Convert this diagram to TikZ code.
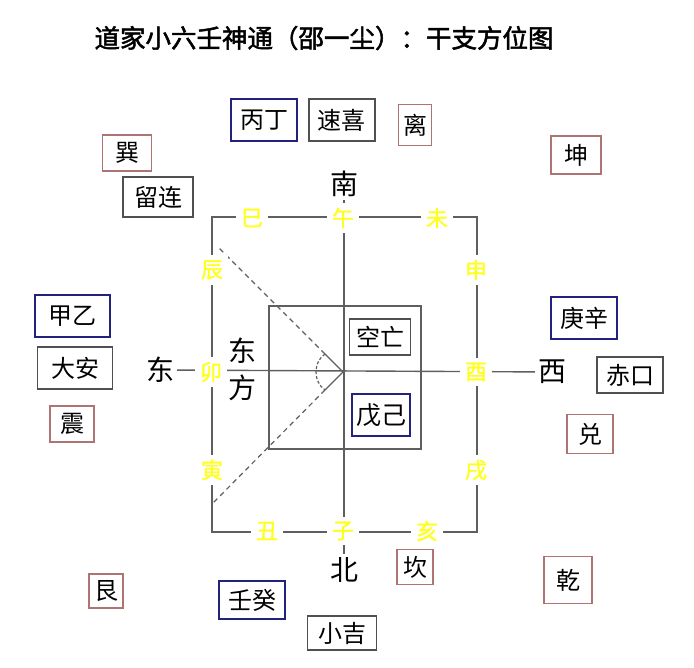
\documentclass[tikz,border=0pt]{standalone}
\usepackage{fontspec}
\newfontfamily\cjk{Noto Sans CJK SC}
\newfontfamily\cjkbf[FakeBold=2]{Noto Sans CJK SC}
\newfontfamily\cjkmid[FakeBold=1.2]{Noto Sans CJK SC}
\usepackage{tikz}
\usetikzlibrary{arrows,positioning}
\definecolor{navy}{RGB}{35,35,125}
\definecolor{guared}{RGB}{175,115,115}
\definecolor{boxgray}{RGB}{80,80,80}
\definecolor{branchyellow}{RGB}{255,255,30}
\definecolor{linegray}{RGB}{95,95,95}
\tikzset{
    %Define style for boxes
    stem/.style={
           rectangle,
           draw=navy, line width=2pt,
           minimum width=66pt,
           minimum height=42pt,
           inner sep=4pt,
           font=\cjk\fontsize{24}{24}\selectfont,
           text centered},
    god/.style={
           rectangle,
           draw=boxgray, line width=1.6pt,
           minimum width=66pt,
           minimum height=42pt,
           inner sep=4pt,
           font=\cjk\fontsize{24}{24}\selectfont,
           text centered},
    gua/.style={
           rectangle,
           draw=guared, line width=1.5pt,
           minimum width=42pt,
           minimum height=38pt,
           inner sep=4pt,
           font=\cjk\fontsize{24}{24}\selectfont,
           text centered},
    branch/.style={
           text=branchyellow,
           fill=white,
           inner sep=5pt,
           font=\cjkmid\fontsize{22}{22}\selectfont},
    dir/.style={
           inner sep=3pt,
           font=\cjk\fontsize{28}{28}\selectfont},
    % Define line style
    cross/.style={
           draw=linegray,
           line width=1.4pt},
    ray/.style={
           draw=linegray,
           line width=1.2pt,
           dash pattern=on 5pt off 4pt}
}
\begin{document}
\begin{tikzpicture}[x=1pt,y=-1pt]
\useasboundingbox[fill=white] (0,0) rectangle (694,668);
\node[font=\cjkbf\fontsize{25.5}{25.5}\selectfont](title) at (324,38){道家小六壬神通（邵一尘）：干支方位图};

% palace square and centre
\coordinate (tl) at (212,217);
\coordinate (br) at (477,532);
\coordinate (itl) at (269,306);
\coordinate (ibr) at (421,449);
\path[cross] (tl) rectangle (br);
\path[cross] (itl) rectangle (ibr);

\node[dir](nan) at (344,184){南};
\node[dir](bei) at (344,570){北};
\node[dir](dong) at (160,370){东};
\node[dir](xi) at (552,372){西};
\node[dir](dongfang1) at (242,351){东};
\node[dir](dongfang2) at (242,388){方};
\path[cross]
	(nan) edge (bei)
	(dong) edge (xi);

% angle towards the east
\coordinate (v) at (343,372);
\coordinate (a1) at (325,354);
\coordinate (a2) at (325,390);
\coordinate (r1) at (219,248);
\coordinate (r2) at (213,503);
\path[draw=linegray, line width=1.2pt]
	(v) edge (a1)
	(v) edge (a2);
\path[ray]
	(a1) edge (r1)
	(a2) edge (r2);
\draw[linegray, line width=1.2pt, dash pattern=on 3pt off 2pt] (a1) .. controls (313,362) and (313,382) .. (a2);

% twelve branches
\node[branch](si) at (252,218){巳};
\node[branch](wu) at (343,218){午};
\node[branch](wei) at (437,218){未};
\node[branch](chen) at (212,270){辰};
\node[branch](mao) at (211,372){卯};
\node[branch](yin) at (212,470){寅};
\node[branch](shen) at (476,270){申};
\node[branch](you) at (476,372){酉};
\node[branch](xu) at (476,470){戌};
\node[branch](chou) at (267,531){丑};
\node[branch](zi) at (343,531){子};
\node[branch](hai) at (427,531){亥};

% centre boxes
\node[god, minimum width=61pt, minimum height=36pt](kongwang) at (380,337){空亡};
\node[stem, minimum width=55pt, minimum height=42pt, font=\cjk\fontsize{25}{25}\selectfont](wuji) at (381,415){戊己};

% stems, gods and trigrams
\node[stem](bingding) at (264,120){丙丁};
\node[god, right=10pt of bingding](suxi){速喜};
\node[gua, minimum width=33pt, minimum height=41pt](li) at (415,125){离};
\node[gua, minimum width=49pt, minimum height=36pt](xun) at (127,153){巽};
\node[god, minimum width=70pt, minimum height=40pt](liulian) at (158,197){留连};
\node[gua, minimum width=50pt](kun) at (576,155){坤};
\node[stem, minimum width=75pt](jiayi) at (72,316){甲乙};
\node[god, minimum width=75pt](daan) at (75,368){大安};
\node[gua, minimum width=44pt, minimum height=36pt](zhen) at (72,424){震};
\node[stem](gengxin) at (584,318){庚辛};
\node[god, minimum height=36pt](chikou) at (630,375){赤口};
\node[gua, minimum width=46pt, minimum height=39pt](dui) at (590,434){兑};
\node[gua, minimum width=34pt, minimum height=34pt](gen) at (106,591){艮};
\node[stem, minimum height=38pt](rengui) at (252,600){壬癸};
\node[god, minimum width=69pt, minimum height=34pt](xiaoji) at (342,633){小吉};
\node[gua, minimum width=36pt, minimum height=35pt](kan) at (415,567){坎};
\node[gua, minimum width=48pt, minimum height=47pt](qian) at (568,580){乾};
\end{tikzpicture}
\end{document}
